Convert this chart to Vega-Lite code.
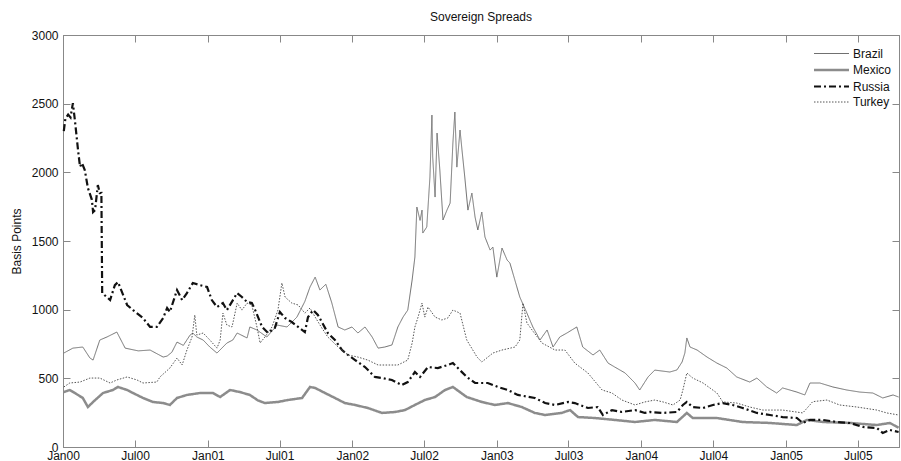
{
  "$schema": "https://vega.github.io/schema/vega-lite/v6.json",
  "width": 836,
  "height": 412,
  "autosize": {"type": "none"},
  "padding": {"left": 63, "top": 35, "right": 2, "bottom": 14},
  "background": "white",
  "config": {
    "font": "Liberation Sans",
    "view": {"stroke": "#888888", "strokeWidth": 1},
    "axis": {"domainColor": "#888888", "tickColor": "#888888", "labelColor": "#111111", "labelFontSize": 12, "grid": false, "tickSize": -7, "titleFontSize": 12, "titleFontWeight": "normal", "titleColor": "#111111"}
  },
  "title": {"text": "Sovereign Spreads", "fontSize": 12, "fontWeight": "normal", "color": "#111111", "offset": 5, "anchor": "middle"},
  "datasets": {
    "spreads": [
      {"d":"2000-01-03","c":"Brazil","v":684},{"d":"2000-01-26","c":"Brazil","v":720},{"d":"2000-02-20","c":"Brazil","v":728},{"d":"2000-03-09","c":"Brazil","v":648},{"d":"2000-03-17","c":"Brazil","v":633},{"d":"2000-04-03","c":"Brazil","v":779},{"d":"2000-04-21","c":"Brazil","v":801},{"d":"2000-05-16","c":"Brazil","v":837},{"d":"2000-06-06","c":"Brazil","v":720},{"d":"2000-07-09","c":"Brazil","v":700},{"d":"2000-08-08","c":"Brazil","v":706},{"d":"2000-09-10","c":"Brazil","v":655},{"d":"2000-09-20","c":"Brazil","v":662},{"d":"2000-10-02","c":"Brazil","v":690},{"d":"2000-10-15","c":"Brazil","v":764},{"d":"2000-10-31","c":"Brazil","v":740},{"d":"2000-11-17","c":"Brazil","v":815},{"d":"2000-11-24","c":"Brazil","v":830},{"d":"2000-12-04","c":"Brazil","v":801},{"d":"2000-12-20","c":"Brazil","v":779},{"d":"2001-01-06","c":"Brazil","v":728},{"d":"2001-01-24","c":"Brazil","v":684},{"d":"2001-02-18","c":"Brazil","v":757},{"d":"2001-03-05","c":"Brazil","v":779},{"d":"2001-03-16","c":"Brazil","v":830},{"d":"2001-04-10","c":"Brazil","v":794},{"d":"2001-04-17","c":"Brazil","v":874},{"d":"2001-05-05","c":"Brazil","v":852},{"d":"2001-05-30","c":"Brazil","v":801},{"d":"2001-06-25","c":"Brazil","v":888},{"d":"2001-07-20","c":"Brazil","v":874},{"d":"2001-08-14","c":"Brazil","v":946},{"d":"2001-09-03","c":"Brazil","v":1060},{"d":"2001-09-16","c":"Brazil","v":1165},{"d":"2001-09-29","c":"Brazil","v":1237},{"d":"2001-10-11","c":"Brazil","v":1143},{"d":"2001-10-26","c":"Brazil","v":1185},{"d":"2001-11-10","c":"Brazil","v":1050},{"d":"2001-11-26","c":"Brazil","v":874},{"d":"2001-12-13","c":"Brazil","v":852},{"d":"2001-12-31","c":"Brazil","v":874},{"d":"2002-01-15","c":"Brazil","v":830},{"d":"2002-02-02","c":"Brazil","v":874},{"d":"2002-02-20","c":"Brazil","v":801},{"d":"2002-03-07","c":"Brazil","v":720},{"d":"2002-03-24","c":"Brazil","v":728},{"d":"2002-04-11","c":"Brazil","v":743},{"d":"2002-04-26","c":"Brazil","v":874},{"d":"2002-05-09","c":"Brazil","v":946},{"d":"2002-05-21","c":"Brazil","v":997},{"d":"2002-06-01","c":"Brazil","v":1216},{"d":"2002-06-08","c":"Brazil","v":1383},{"d":"2002-06-13","c":"Brazil","v":1747},{"d":"2002-06-21","c":"Brazil","v":1650},{"d":"2002-06-26","c":"Brazil","v":1725},{"d":"2002-06-28","c":"Brazil","v":1558},{"d":"2002-07-08","c":"Brazil","v":1602},{"d":"2002-07-16","c":"Brazil","v":1966},{"d":"2002-07-21","c":"Brazil","v":2417},{"d":"2002-07-23","c":"Brazil","v":2111},{"d":"2002-07-29","c":"Brazil","v":1820},{"d":"2002-08-03","c":"Brazil","v":2286},{"d":"2002-08-10","c":"Brazil","v":2017},{"d":"2002-08-18","c":"Brazil","v":1653},{"d":"2002-08-28","c":"Brazil","v":1725},{"d":"2002-09-05","c":"Brazil","v":1776},{"d":"2002-09-12","c":"Brazil","v":2213},{"d":"2002-09-17","c":"Brazil","v":2439},{"d":"2002-09-22","c":"Brazil","v":2038},{"d":"2002-09-30","c":"Brazil","v":2308},{"d":"2002-10-05","c":"Brazil","v":2162},{"d":"2002-10-12","c":"Brazil","v":1966},{"d":"2002-10-20","c":"Brazil","v":1725},{"d":"2002-10-30","c":"Brazil","v":1849},{"d":"2002-11-07","c":"Brazil","v":1674},{"d":"2002-11-14","c":"Brazil","v":1580},{"d":"2002-11-24","c":"Brazil","v":1711},{"d":"2002-12-02","c":"Brazil","v":1529},{"d":"2002-12-15","c":"Brazil","v":1434},{"d":"2002-12-22","c":"Brazil","v":1456},{"d":"2003-01-01","c":"Brazil","v":1237},{"d":"2003-01-14","c":"Brazil","v":1449},{"d":"2003-01-27","c":"Brazil","v":1361},{"d":"2003-02-03","c":"Brazil","v":1340},{"d":"2003-02-28","c":"Brazil","v":1092},{"d":"2003-03-18","c":"Brazil","v":975},{"d":"2003-04-02","c":"Brazil","v":874},{"d":"2003-04-20","c":"Brazil","v":779},{"d":"2003-05-08","c":"Brazil","v":852},{"d":"2003-05-23","c":"Brazil","v":728},{"d":"2003-06-09","c":"Brazil","v":801},{"d":"2003-06-27","c":"Brazil","v":830},{"d":"2003-07-22","c":"Brazil","v":874},{"d":"2003-08-06","c":"Brazil","v":728},{"d":"2003-09-01","c":"Brazil","v":670},{"d":"2003-09-18","c":"Brazil","v":706},{"d":"2003-10-09","c":"Brazil","v":611},{"d":"2003-10-26","c":"Brazil","v":582},{"d":"2003-11-21","c":"Brazil","v":539},{"d":"2003-12-16","c":"Brazil","v":466},{"d":"2003-12-28","c":"Brazil","v":415},{"d":"2004-01-18","c":"Brazil","v":510},{"d":"2004-02-04","c":"Brazil","v":560},{"d":"2004-03-13","c":"Brazil","v":546},{"d":"2004-03-31","c":"Brazil","v":561},{"d":"2004-04-13","c":"Brazil","v":619},{"d":"2004-04-20","c":"Brazil","v":684},{"d":"2004-04-25","c":"Brazil","v":794},{"d":"2004-05-03","c":"Brazil","v":728},{"d":"2004-05-21","c":"Brazil","v":706},{"d":"2004-06-15","c":"Brazil","v":655},{"d":"2004-07-10","c":"Brazil","v":611},{"d":"2004-08-04","c":"Brazil","v":575},{"d":"2004-08-29","c":"Brazil","v":510},{"d":"2004-10-01","c":"Brazil","v":473},{"d":"2004-10-19","c":"Brazil","v":502},{"d":"2004-11-13","c":"Brazil","v":437},{"d":"2004-12-08","c":"Brazil","v":393},{"d":"2004-12-23","c":"Brazil","v":430},{"d":"2005-01-28","c":"Brazil","v":400},{"d":"2005-02-17","c":"Brazil","v":379},{"d":"2005-03-02","c":"Brazil","v":466},{"d":"2005-03-27","c":"Brazil","v":466},{"d":"2005-04-29","c":"Brazil","v":437},{"d":"2005-06-03","c":"Brazil","v":415},{"d":"2005-07-06","c":"Brazil","v":400},{"d":"2005-08-08","c":"Brazil","v":393},{"d":"2005-09-02","c":"Brazil","v":357},{"d":"2005-09-28","c":"Brazil","v":379},{"d":"2005-10-12","c":"Brazil","v":364},
      {"d":"2000-01-03","c":"Mexico","v":400},{"d":"2000-01-18","c":"Mexico","v":415},{"d":"2000-01-31","c":"Mexico","v":393},{"d":"2000-02-20","c":"Mexico","v":357},{"d":"2000-03-04","c":"Mexico","v":291},{"d":"2000-03-17","c":"Mexico","v":328},{"d":"2000-04-11","c":"Mexico","v":393},{"d":"2000-05-06","c":"Mexico","v":415},{"d":"2000-05-19","c":"Mexico","v":437},{"d":"2000-06-11","c":"Mexico","v":415},{"d":"2000-06-26","c":"Mexico","v":393},{"d":"2000-07-21","c":"Mexico","v":357},{"d":"2000-08-15","c":"Mexico","v":328},{"d":"2000-09-10","c":"Mexico","v":320},{"d":"2000-09-27","c":"Mexico","v":306},{"d":"2000-10-15","c":"Mexico","v":357},{"d":"2000-11-09","c":"Mexico","v":379},{"d":"2000-12-12","c":"Mexico","v":393},{"d":"2001-01-14","c":"Mexico","v":393},{"d":"2001-02-01","c":"Mexico","v":364},{"d":"2001-02-26","c":"Mexico","v":415},{"d":"2001-03-23","c":"Mexico","v":400},{"d":"2001-04-17","c":"Mexico","v":379},{"d":"2001-05-07","c":"Mexico","v":340},{"d":"2001-05-25","c":"Mexico","v":320},{"d":"2001-06-27","c":"Mexico","v":328},{"d":"2001-07-22","c":"Mexico","v":342},{"d":"2001-08-27","c":"Mexico","v":357},{"d":"2001-09-16","c":"Mexico","v":437},{"d":"2001-09-29","c":"Mexico","v":430},{"d":"2001-10-24","c":"Mexico","v":393},{"d":"2001-11-18","c":"Mexico","v":357},{"d":"2001-12-13","c":"Mexico","v":320},{"d":"2002-01-08","c":"Mexico","v":306},{"d":"2002-02-09","c":"Mexico","v":284},{"d":"2002-03-17","c":"Mexico","v":248},{"d":"2002-04-19","c":"Mexico","v":255},{"d":"2002-05-14","c":"Mexico","v":269},{"d":"2002-06-08","c":"Mexico","v":306},{"d":"2002-07-03","c":"Mexico","v":342},{"d":"2002-07-29","c":"Mexico","v":364},{"d":"2002-08-23","c":"Mexico","v":415},{"d":"2002-09-12","c":"Mexico","v":437},{"d":"2002-10-17","c":"Mexico","v":364},{"d":"2002-11-24","c":"Mexico","v":328},{"d":"2002-12-27","c":"Mexico","v":306},{"d":"2003-01-29","c":"Mexico","v":320},{"d":"2003-03-05","c":"Mexico","v":291},{"d":"2003-04-07","c":"Mexico","v":248},{"d":"2003-05-03","c":"Mexico","v":233},{"d":"2003-06-14","c":"Mexico","v":248},{"d":"2003-07-05","c":"Mexico","v":269},{"d":"2003-07-25","c":"Mexico","v":218},{"d":"2003-09-06","c":"Mexico","v":211},{"d":"2003-10-26","c":"Mexico","v":197},{"d":"2003-12-16","c":"Mexico","v":182},{"d":"2004-02-04","c":"Mexico","v":197},{"d":"2004-03-31","c":"Mexico","v":182},{"d":"2004-04-25","c":"Mexico","v":248},{"d":"2004-05-10","c":"Mexico","v":211},{"d":"2004-07-10","c":"Mexico","v":211},{"d":"2004-09-13","c":"Mexico","v":182},{"d":"2004-11-21","c":"Mexico","v":175},{"d":"2005-01-28","c":"Mexico","v":160},{"d":"2005-02-22","c":"Mexico","v":197},{"d":"2005-04-04","c":"Mexico","v":182},{"d":"2005-06-11","c":"Mexico","v":175},{"d":"2005-08-18","c":"Mexico","v":160},{"d":"2005-09-20","c":"Mexico","v":175},{"d":"2005-10-12","c":"Mexico","v":140},
      {"d":"2000-01-03","c":"Russia","v":2300},{"d":"2000-01-07","c":"Russia","v":2390},{"d":"2000-01-14","c":"Russia","v":2420},{"d":"2000-01-20","c":"Russia","v":2400},{"d":"2000-01-26","c":"Russia","v":2504},{"d":"2000-01-31","c":"Russia","v":2380},{"d":"2000-02-08","c":"Russia","v":2162},{"d":"2000-02-13","c":"Russia","v":2040},{"d":"2000-02-18","c":"Russia","v":2067},{"d":"2000-02-25","c":"Russia","v":2017},{"d":"2000-03-04","c":"Russia","v":1885},{"d":"2000-03-14","c":"Russia","v":1800},{"d":"2000-03-17","c":"Russia","v":1711},{"d":"2000-03-22","c":"Russia","v":1725},{"d":"2000-03-29","c":"Russia","v":1907},{"d":"2000-04-03","c":"Russia","v":1849},{"d":"2000-04-07","c":"Russia","v":1850},{"d":"2000-04-09","c":"Russia","v":1121},{"d":"2000-04-29","c":"Russia","v":1070},{"d":"2000-05-11","c":"Russia","v":1179},{"d":"2000-05-19","c":"Russia","v":1201},{"d":"2000-05-24","c":"Russia","v":1165},{"d":"2000-06-11","c":"Russia","v":1034},{"d":"2000-06-26","c":"Russia","v":997},{"d":"2000-07-21","c":"Russia","v":939},{"d":"2000-08-08","c":"Russia","v":874},{"d":"2000-08-25","c":"Russia","v":874},{"d":"2000-09-10","c":"Russia","v":939},{"d":"2000-09-20","c":"Russia","v":1012},{"d":"2000-09-27","c":"Russia","v":983},{"d":"2000-10-15","c":"Russia","v":1143},{"d":"2000-10-28","c":"Russia","v":1070},{"d":"2000-11-09","c":"Russia","v":1121},{"d":"2000-11-24","c":"Russia","v":1194},{"d":"2000-12-12","c":"Russia","v":1179},{"d":"2000-12-30","c":"Russia","v":1165},{"d":"2001-01-11","c":"Russia","v":1070},{"d":"2001-01-24","c":"Russia","v":1019},{"d":"2001-02-08","c":"Russia","v":1048},{"d":"2001-02-18","c":"Russia","v":997},{"d":"2001-03-16","c":"Russia","v":1121},{"d":"2001-03-28","c":"Russia","v":1092},{"d":"2001-04-10","c":"Russia","v":1056},{"d":"2001-04-22","c":"Russia","v":1048},{"d":"2001-04-30","c":"Russia","v":1000},{"d":"2001-05-18","c":"Russia","v":874},{"d":"2001-06-02","c":"Russia","v":830},{"d":"2001-06-19","c":"Russia","v":866},{"d":"2001-07-02","c":"Russia","v":983},{"d":"2001-07-15","c":"Russia","v":939},{"d":"2001-08-01","c":"Russia","v":910},{"d":"2001-08-17","c":"Russia","v":874},{"d":"2001-09-03","c":"Russia","v":837},{"d":"2001-09-11","c":"Russia","v":946},{"d":"2001-09-24","c":"Russia","v":997},{"d":"2001-10-06","c":"Russia","v":961},{"d":"2001-10-16","c":"Russia","v":910},{"d":"2001-10-31","c":"Russia","v":830},{"d":"2001-11-18","c":"Russia","v":779},{"d":"2001-12-06","c":"Russia","v":706},{"d":"2001-12-21","c":"Russia","v":670},{"d":"2002-01-08","c":"Russia","v":633},{"d":"2002-02-02","c":"Russia","v":582},{"d":"2002-02-27","c":"Russia","v":510},{"d":"2002-03-17","c":"Russia","v":502},{"d":"2002-04-11","c":"Russia","v":488},{"d":"2002-05-06","c":"Russia","v":451},{"d":"2002-05-21","c":"Russia","v":473},{"d":"2002-06-08","c":"Russia","v":546},{"d":"2002-06-21","c":"Russia","v":510},{"d":"2002-07-11","c":"Russia","v":582},{"d":"2002-08-05","c":"Russia","v":575},{"d":"2002-08-30","c":"Russia","v":597},{"d":"2002-09-12","c":"Russia","v":611},{"d":"2002-09-17","c":"Russia","v":597},{"d":"2002-10-17","c":"Russia","v":510},{"d":"2002-11-07","c":"Russia","v":466},{"d":"2002-12-09","c":"Russia","v":466},{"d":"2003-01-04","c":"Russia","v":437},{"d":"2003-01-29","c":"Russia","v":415},{"d":"2003-02-23","c":"Russia","v":379},{"d":"2003-04-07","c":"Russia","v":357},{"d":"2003-05-03","c":"Russia","v":320},{"d":"2003-05-28","c":"Russia","v":306},{"d":"2003-06-30","c":"Russia","v":328},{"d":"2003-07-17","c":"Russia","v":320},{"d":"2003-08-19","c":"Russia","v":284},{"d":"2003-09-13","c":"Russia","v":291},{"d":"2003-09-26","c":"Russia","v":233},{"d":"2003-10-19","c":"Russia","v":269},{"d":"2003-11-13","c":"Russia","v":255},{"d":"2003-12-16","c":"Russia","v":269},{"d":"2004-01-10","c":"Russia","v":248},{"d":"2004-01-23","c":"Russia","v":255},{"d":"2004-02-25","c":"Russia","v":248},{"d":"2004-03-31","c":"Russia","v":255},{"d":"2004-04-15","c":"Russia","v":306},{"d":"2004-04-25","c":"Russia","v":328},{"d":"2004-05-10","c":"Russia","v":291},{"d":"2004-06-05","c":"Russia","v":284},{"d":"2004-06-30","c":"Russia","v":306},{"d":"2004-07-25","c":"Russia","v":320},{"d":"2004-08-19","c":"Russia","v":306},{"d":"2004-09-13","c":"Russia","v":284},{"d":"2004-10-19","c":"Russia","v":248},{"d":"2004-11-21","c":"Russia","v":233},{"d":"2004-12-23","c":"Russia","v":218},{"d":"2005-01-28","c":"Russia","v":211},{"d":"2005-02-12","c":"Russia","v":175},{"d":"2005-03-02","c":"Russia","v":197},{"d":"2005-04-04","c":"Russia","v":197},{"d":"2005-05-09","c":"Russia","v":182},{"d":"2005-06-11","c":"Russia","v":175},{"d":"2005-07-14","c":"Russia","v":146},{"d":"2005-08-18","c":"Russia","v":138},{"d":"2005-09-02","c":"Russia","v":102},{"d":"2005-09-20","c":"Russia","v":124},{"d":"2005-10-12","c":"Russia","v":109},
      {"d":"2000-01-03","c":"Turkey","v":437},{"d":"2000-01-18","c":"Turkey","v":466},{"d":"2000-02-13","c":"Turkey","v":473},{"d":"2000-03-09","c":"Turkey","v":502},{"d":"2000-04-03","c":"Turkey","v":502},{"d":"2000-04-29","c":"Turkey","v":466},{"d":"2000-05-16","c":"Turkey","v":488},{"d":"2000-06-11","c":"Turkey","v":510},{"d":"2000-07-06","c":"Turkey","v":488},{"d":"2000-07-21","c":"Turkey","v":466},{"d":"2000-08-25","c":"Turkey","v":473},{"d":"2000-09-02","c":"Turkey","v":510},{"d":"2000-09-27","c":"Turkey","v":575},{"d":"2000-10-15","c":"Turkey","v":648},{"d":"2000-10-28","c":"Turkey","v":597},{"d":"2000-11-09","c":"Turkey","v":706},{"d":"2000-11-22","c":"Turkey","v":801},{"d":"2000-11-29","c":"Turkey","v":961},{"d":"2000-12-04","c":"Turkey","v":815},{"d":"2000-12-20","c":"Turkey","v":830},{"d":"2001-01-06","c":"Turkey","v":779},{"d":"2001-01-24","c":"Turkey","v":720},{"d":"2001-02-01","c":"Turkey","v":779},{"d":"2001-02-08","c":"Turkey","v":975},{"d":"2001-02-18","c":"Turkey","v":888},{"d":"2001-03-03","c":"Turkey","v":874},{"d":"2001-03-16","c":"Turkey","v":1048},{"d":"2001-03-28","c":"Turkey","v":997},{"d":"2001-04-10","c":"Turkey","v":1048},{"d":"2001-04-22","c":"Turkey","v":1034},{"d":"2001-05-05","c":"Turkey","v":874},{"d":"2001-05-13","c":"Turkey","v":757},{"d":"2001-05-25","c":"Turkey","v":801},{"d":"2001-06-12","c":"Turkey","v":874},{"d":"2001-06-27","c":"Turkey","v":997},{"d":"2001-07-07","c":"Turkey","v":1194},{"d":"2001-07-15","c":"Turkey","v":1092},{"d":"2001-08-01","c":"Turkey","v":1048},{"d":"2001-08-17","c":"Turkey","v":1034},{"d":"2001-09-03","c":"Turkey","v":975},{"d":"2001-09-16","c":"Turkey","v":1012},{"d":"2001-09-29","c":"Turkey","v":946},{"d":"2001-10-16","c":"Turkey","v":866},{"d":"2001-10-31","c":"Turkey","v":801},{"d":"2001-11-26","c":"Turkey","v":728},{"d":"2001-12-21","c":"Turkey","v":670},{"d":"2002-01-15","c":"Turkey","v":655},{"d":"2002-02-09","c":"Turkey","v":633},{"d":"2002-03-07","c":"Turkey","v":597},{"d":"2002-04-01","c":"Turkey","v":597},{"d":"2002-04-26","c":"Turkey","v":597},{"d":"2002-05-21","c":"Turkey","v":633},{"d":"2002-06-01","c":"Turkey","v":757},{"d":"2002-06-08","c":"Turkey","v":874},{"d":"2002-06-16","c":"Turkey","v":946},{"d":"2002-06-26","c":"Turkey","v":1048},{"d":"2002-07-03","c":"Turkey","v":946},{"d":"2002-07-11","c":"Turkey","v":1019},{"d":"2002-07-29","c":"Turkey","v":946},{"d":"2002-08-15","c":"Turkey","v":925},{"d":"2002-08-30","c":"Turkey","v":939},{"d":"2002-09-12","c":"Turkey","v":997},{"d":"2002-09-30","c":"Turkey","v":975},{"d":"2002-10-17","c":"Turkey","v":779},{"d":"2002-11-12","c":"Turkey","v":655},{"d":"2002-11-24","c":"Turkey","v":619},{"d":"2002-12-22","c":"Turkey","v":684},{"d":"2003-01-14","c":"Turkey","v":706},{"d":"2003-02-16","c":"Turkey","v":728},{"d":"2003-02-28","c":"Turkey","v":779},{"d":"2003-03-08","c":"Turkey","v":1048},{"d":"2003-03-18","c":"Turkey","v":903},{"d":"2003-03-31","c":"Turkey","v":852},{"d":"2003-04-25","c":"Turkey","v":757},{"d":"2003-05-28","c":"Turkey","v":706},{"d":"2003-06-22","c":"Turkey","v":706},{"d":"2003-07-17","c":"Turkey","v":611},{"d":"2003-08-19","c":"Turkey","v":539},{"d":"2003-09-24","c":"Turkey","v":415},{"d":"2003-10-19","c":"Turkey","v":393},{"d":"2003-11-13","c":"Turkey","v":342},{"d":"2003-12-16","c":"Turkey","v":306},{"d":"2004-01-10","c":"Turkey","v":328},{"d":"2004-02-04","c":"Turkey","v":342},{"d":"2004-02-25","c":"Turkey","v":328},{"d":"2004-03-21","c":"Turkey","v":306},{"d":"2004-04-08","c":"Turkey","v":342},{"d":"2004-04-15","c":"Turkey","v":415},{"d":"2004-04-25","c":"Turkey","v":539},{"d":"2004-05-10","c":"Turkey","v":502},{"d":"2004-06-05","c":"Turkey","v":466},{"d":"2004-07-10","c":"Turkey","v":393},{"d":"2004-07-25","c":"Turkey","v":328},{"d":"2004-08-29","c":"Turkey","v":320},{"d":"2004-10-01","c":"Turkey","v":291},{"d":"2004-11-03","c":"Turkey","v":269},{"d":"2004-12-23","c":"Turkey","v":269},{"d":"2005-02-12","c":"Turkey","v":248},{"d":"2005-03-09","c":"Turkey","v":330},{"d":"2005-04-14","c":"Turkey","v":342},{"d":"2005-05-16","c":"Turkey","v":306},{"d":"2005-06-29","c":"Turkey","v":291},{"d":"2005-08-18","c":"Turkey","v":269},{"d":"2005-09-12","c":"Turkey","v":248},{"d":"2005-10-12","c":"Turkey","v":233}
    ]
  },
  "data": {"name": "spreads"},
  "layer": [
    {
      "mark": {"type": "line", "interpolate": "linear"},
      "encoding": {
        "x": {"field": "d", "type": "temporal", "scale": {"domain": ["2000-01-01", "2005-10-13"]},
              "axis": {"orient": "bottom", "format": "%b%y", "tickCount": {"interval": "month", "step": 6}, "title": null, "labelPadding": 10, "labelFlush": false}},
        "y": {"field": "v", "type": "quantitative", "scale": {"domain": [0, 3000], "nice": false},
              "axis": {"orient": "left", "values": [0, 500, 1000, 1500, 2000, 2500, 3000], "format": "d", "title": "Basis Points", "labelPadding": 12, "titlePadding": 8}},
        "color": {"field": "c", "type": "nominal",
                  "scale": {"domain": ["Brazil", "Mexico", "Russia", "Turkey"], "range": ["#707070", "#8c8c8c", "#111111", "#555555"]},
                  "legend": {"title": null, "orient": "none", "legendX": 760, "legendY": 11, "symbolType": "M-2.5,0H2.5", "symbolSize": 196, "labelFontSize": 12, "labelColor": "#111111", "rowPadding": 1.5, "padding": 0, "labelOffset": 13}},
        "strokeDash": {"field": "c", "type": "nominal",
                       "scale": {"domain": ["Brazil", "Mexico", "Russia", "Turkey"], "range": [[1, 0], [1, 0], [7, 3, 2, 3], [1.5, 1.5]]}},
        "strokeWidth": {"field": "c", "type": "nominal",
                        "scale": {"type": "ordinal", "domain": ["Brazil", "Mexico", "Russia", "Turkey"], "range": [1, 2.5, 2.2, 1]}}
      }
    },
    {
      "mark": {"type": "point", "opacity": 0},
      "encoding": {
        "x": {"field": "d", "type": "temporal", "axis": {"orient": "top", "labels": false, "title": null, "tickCount": {"interval": "month", "step": 6}}},
        "y": {"field": "v", "type": "quantitative", "axis": {"orient": "right", "labels": false, "title": null, "values": [0, 500, 1000, 1500, 2000, 2500, 3000]}}
      }
    }
  ],
  "resolve": {"axis": {"x": "independent", "y": "independent"}}
}
